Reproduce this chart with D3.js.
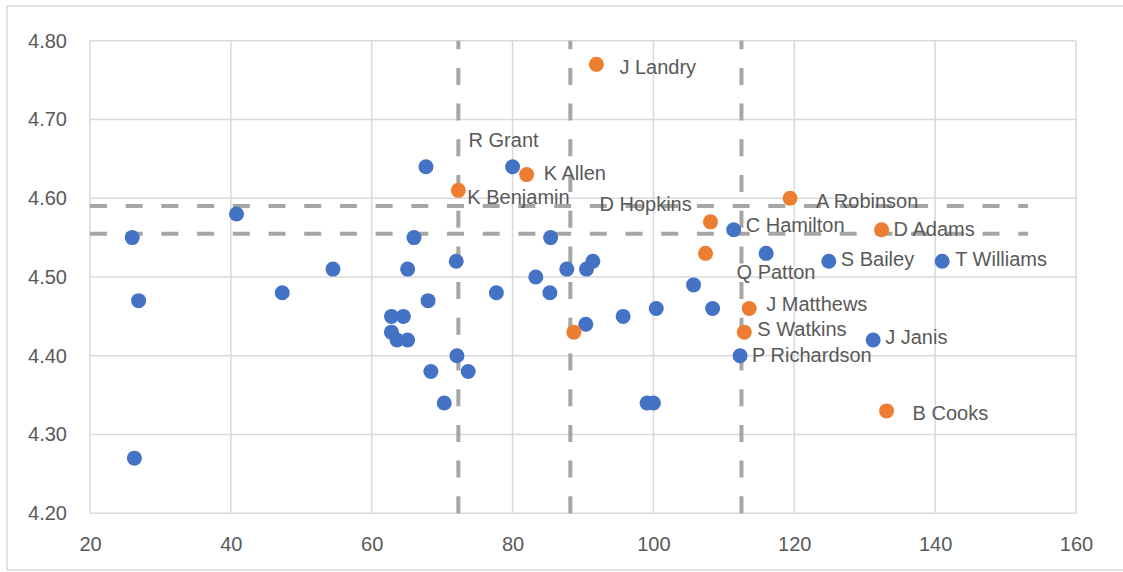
<!DOCTYPE html>
<html>
<head>
<meta charset="utf-8">
<script src="https://cdn.jsdelivr.net/npm/d3@7"></script>
<style>
  html, body { margin: 0; padding: 0; background: #fff; }
  svg { display: block; font-family: "Liberation Sans", Arial, sans-serif; }
</style>
</head>
<body>
<svg id="chart" width="1123" height="572"></svg>
<script>
// Blue group: speed score (x) vs 40-yard time (y)
const blueX = [26.0, 26.9, 26.3, 40.8, 47.3, 54.5, 62.8, 64.5, 62.8, 63.6, 65.1, 65.1, 66.0, 67.7,
  68.0, 68.4, 70.3, 72.0, 72.1, 73.7, 77.7, 80.0, 83.3, 85.3, 85.4, 87.7, 90.4, 90.5, 91.4, 95.7,
  99.1, 100.0, 100.4, 105.7, 108.4, 111.4, 112.3, 116.0, 124.9, 131.2, 141.0];
const blueY = [4.55, 4.47, 4.27, 4.58, 4.48, 4.51, 4.45, 4.45, 4.43, 4.42, 4.42, 4.51, 4.55, 4.64,
  4.47, 4.38, 4.34, 4.52, 4.40, 4.38, 4.48, 4.64, 4.50, 4.48, 4.55, 4.51, 4.44, 4.51, 4.52, 4.45,
  4.34, 4.34, 4.46, 4.49, 4.46, 4.56, 4.40, 4.53, 4.52, 4.42, 4.52];
const blueNames = ["", "", "", "", "", "", "", "", "", "", "", "", "", "",
  "", "", "", "", "", "", "", "R Grant", "", "", "", "", "", "", "", "",
  "", "", "", "", "", "C Hamilton", "P Richardson", "", "S Bailey", "J Janis", "T Williams"];

// Orange group
const orangeX = [72.3, 82.0, 88.7, 91.9, 107.4, 108.1, 112.9, 113.6, 119.4, 132.4, 133.1];
const orangeY = [4.61, 4.63, 4.43, 4.77, 4.53, 4.57, 4.43, 4.46, 4.60, 4.56, 4.33];
const orangeNames = ["K Benjamin", "K Allen", "", "J Landry", "Q Patton", "D Hopkins",
  "S Watkins", "J Matthews", "A Robinson", "D Adams", "B Cooks"];

// Reference (threshold) lines
const vRefX = [72.3, 88.2, 112.5];
const hRefY = [4.59, 4.555];
const hRefExtent = [20, 153.2];

// Axis ticks
const xTicks = [20, 40, 60, 80, 100, 120, 140, 160];
const yTicks = [4.20, 4.30, 4.40, 4.50, 4.60, 4.70, 4.80];

// Hand-placed label offsets (px) from each labelled point
const labelOffsets = {
  "J Landry": [23, 2], "K Allen": [17, -2], "K Benjamin": [9, 6], "R Grant": [-44, -27],
  "D Hopkins": [-111, -18], "C Hamilton": [12, -5], "A Robinson": [26, 3], "D Adams": [12, -1],
  "S Bailey": [12, -2], "T Williams": [13, -2], "Q Patton": [31, 18], "J Matthews": [17, -5],
  "S Watkins": [13, -3], "J Janis": [12, -3], "P Richardson": [12, -1], "B Cooks": [26, 2]
};

const svg = d3.select("#chart");
const plotLeft = 90, plotRight = 1076, plotTop = 40.7, plotBottom = 513.3;

const x = d3.scaleLinear().domain([20, 160]).range([plotLeft, plotRight]);
const y = d3.scaleLinear().domain([4.2, 4.8]).range([plotBottom, plotTop]);

// outer chart frame
svg.append("rect")
  .attr("x", 7).attr("y", 6).attr("width", 1125).attr("height", 564)
  .attr("fill", "none").attr("stroke", "#d9d9d9").attr("stroke-width", 1.5);

// gridlines
const grid = svg.append("g");
grid.selectAll("line.vg").data(xTicks).join("line")
  .attr("x1", d => x(d)).attr("x2", d => x(d))
  .attr("y1", plotTop).attr("y2", plotBottom)
  .attr("stroke", "#d9d9d9").attr("stroke-width", 1.5);
grid.selectAll("line.hg").data(yTicks).join("line")
  .attr("x1", plotLeft).attr("x2", plotRight)
  .attr("y1", d => y(d)).attr("y2", d => y(d))
  .attr("stroke", "#d9d9d9").attr("stroke-width", 1.5);

// axes (labels only)
const xAxis = svg.append("g")
  .attr("transform", `translate(0,${plotBottom})`)
  .call(d3.axisBottom(x).tickValues(xTicks).tickSize(0).tickPadding(23.5).tickFormat(d3.format("d")));
const yAxis = svg.append("g")
  .attr("transform", `translate(${plotLeft},0)`)
  .call(d3.axisLeft(y).tickValues(yTicks).tickSize(0).tickPadding(23).tickFormat(d3.format(".2f")));
[xAxis, yAxis].forEach(g => {
  g.select(".domain").remove();
  g.selectAll("text").attr("fill", "#595959").style("font-size", "20px")
    .style("font-family", "'Liberation Sans', Arial, sans-serif");
});

// dashed reference lines
const ref = svg.append("g")
  .attr("stroke", "#a6a6a6").attr("stroke-width", 4)
  .attr("stroke-dasharray", "17,18.7").attr("fill", "none");
ref.selectAll("line.v").data(vRefX).join("line")
  .attr("x1", d => x(d)).attr("x2", d => x(d))
  .attr("y1", y(4.2)).attr("y2", y(4.8));
ref.selectAll("line.h").data(hRefY).join("line")
  .attr("x1", x(hRefExtent[0])).attr("x2", x(hRefExtent[1]))
  .attr("y1", d => y(d)).attr("y2", d => y(d));

// points
const blue = blueX.map((v, i) => ({x: v, y: blueY[i], name: blueNames[i], c: "#4472C4"}));
const orange = orangeX.map((v, i) => ({x: v, y: orangeY[i], name: orangeNames[i], c: "#ED7D31"}));
const all = blue.concat(orange);

svg.append("g").selectAll("circle").data(all).join("circle")
  .attr("cx", d => x(d.x)).attr("cy", d => y(d.y)).attr("r", 7.5)
  .attr("fill", d => d.c);

// name labels
svg.append("g").selectAll("text").data(all.filter(d => d.name)).join("text")
  .attr("x", d => x(d.x) + labelOffsets[d.name][0])
  .attr("y", d => y(d.y) + labelOffsets[d.name][1])
  .attr("dy", "0.36em")
  .attr("fill", "#595959")
  .style("font-size", "20px")
  .text(d => d.name);
</script>
</body>
</html>
